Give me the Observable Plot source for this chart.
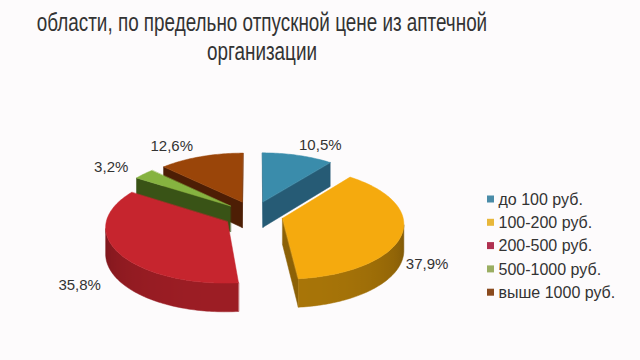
<!DOCTYPE html>
<html>
<head>
<meta charset="utf-8">
<script src="https://cdn.jsdelivr.net/npm/d3@7"></script>
<script src="https://cdn.jsdelivr.net/npm/@observablehq/plot@0.6"></script>
<style>
  html, body { margin: 0; padding: 0; background: #fdfbfc; }
  #wrap { width: 640px; height: 360px; overflow: hidden; position: relative; background: #fdfbfc; }
  #title { height: 66px; width: 700px; margin-left: -88px; box-sizing: border-box; padding-top: 8px;
           font-family: "Liberation Sans", Arial, sans-serif; font-size: 25px; line-height: 29px;
           color: #333; text-align: center; white-space: nowrap; }
  #title div { transform: scaleX(0.755); transform-origin: 50% 50%; }
  #chart svg { display: block; }
</style>
</head>
<body>
<div id="wrap">
  <div id="title"><div>области, по предельно отпускной цене из аптечной</div><div>организации</div></div>
  <div id="chart"></div>
</div>
<script>
// ---- data ----
const categories = ["до 100 руб.", "100-200 руб.", "200-500 руб.", "500-1000 руб.", "выше 1000 руб."];
const values = [10.5, 37.9, 35.8, 3.2, 12.6];
// ---- styles ----
const topColors = ["#3a8cab", "#f5aa0e", "#c6252e", "#86b340", "#9a4509"];
const sideColors = ["#2c6682", "#a87508", "#9c1d24", "#42601a", "#5a2306"];
const sideDark = ["#1f4e66", "#6a4805", "#6e1318", "#2d4410", "#3e1704"];
const legendColors = ["#4a8ca8", "#e8b73a", "#b03050", "#9aae62", "#8a4a1e"];

// ---- layout ----
const CX = 253, CY = 214, RX = 120, RY = 55, D = 12, H = 26, E = 0.25;
const fmt = v => d3.format(".1f")(v).replace(".", ",") + "%";

function proj(u, v, z) {
  const s = D / (D - v);
  return [CX + RX * u * s, CY + RY * v * s + H * s * z];
}

const arcs = d3.pie().sort(null).value(d => d)(values);
const walls = [], tops = [], labels = [], gradients = [];
let wid = 0;
const eye = [0, D];
function visible(nu, nv, pu, pv) { return nu * (eye[0] - pu) + nv * (eye[1] - pv) > 0; }
function pushPoly(arr, pts, color, depth) {
  arr.push({id: "p" + (wid++), depth, color, pts});
}

arcs.forEach((a, i) => {
  const m = (a.startAngle + a.endAngle) / 2;
  const eu = E * Math.sin(m), ev = -E * Math.cos(m);
  const n = Math.max(3, Math.ceil((a.endAngle - a.startAngle) / 0.02));
  const ang = d3.range(n + 1).map(t => a.startAngle + (a.endAngle - a.startAngle) * t / n);
  const P = ang.map(t => [eu + Math.sin(t), ev - Math.cos(t)]);
  // outer wall: visible contiguous run, one polygon with horizontal gradient
  const vis = [];
  for (let k = 0; k <= n; k++) {
    const t = ang[k];
    if (visible(Math.sin(t), -Math.cos(t), P[k][0], P[k][1])) vis.push(k);
  }
  if (vis.length > 1) {
    const topPts = vis.map(k => proj(P[k][0], P[k][1], 0));
    const botPts = vis.map(k => proj(P[k][0], P[k][1], 1)).reverse();
    const xs = topPts.map(p => p[0]);
    const x0 = d3.min(xs), x1 = d3.max(xs);
    const stops = vis.map((k, j) => {
      const face = Math.max(0, Math.min(1, -Math.cos(ang[k])));
      return {offset: (xs[j] - x0) / (x1 - x0), color: d3.interpolateRgb(sideDark[i], sideColors[i])(Math.pow(face, 0.6))};
    }).sort((p, q) => p.offset - q.offset);
    const gid = "wg" + i;
    gradients.push({id: gid, x0, x1, stops});
    const meanV = d3.mean(vis, k => P[k][1]);
    pushPoly(walls, [...topPts, ...botPts], `url(#${gid})`, meanV);
  }
  // radial walls
  const edges = [
    {p: P[0], nu: -Math.cos(a.startAngle), nv: -Math.sin(a.startAngle)},
    {p: P[n], nu: Math.cos(a.endAngle), nv: Math.sin(a.endAngle)}
  ];
  edges.forEach(e => {
    const pu = (eu + e.p[0]) / 2, pv = (ev + e.p[1]) / 2;
    if (!visible(e.nu, e.nv, pu, pv)) return;
    const col = d3.interpolateRgb(sideDark[i], sideColors[i])(0.55);
    pushPoly(walls, [proj(eu, ev, 0), proj(e.p[0], e.p[1], 0), proj(e.p[0], e.p[1], 1), proj(eu, ev, 1)], col, pv);
  });
  // top face
  pushPoly(tops, [proj(eu, ev, 0), ...P.map(p => proj(p[0], p[1], 0))], topColors[i], ev);
  // label, placed just outside the slice's outer edge
  const sm = Math.sin(m), cm = -Math.cos(m);
  const [ax, ay] = proj(eu + sm, ev + cm, 0);
  const front = cm > 0 ? H * (D / (D - (ev + cm))) : 0;
  labels.push({
    x: ax + sm * (sm > 0 ? 4 : 20), y: ay + front + cm * 11,
    anchor: sm > 0 ? "start" : "end", text: fmt(values[i])
  });
});

walls.sort((a, b) => a.depth - b.depth);
tops.sort((a, b) => a.depth - b.depth);
const flat = arr => arr.flatMap(p => p.pts.map(([x, y]) => ({id: p.id, color: p.color, x, y})));

const legend = categories.map((c, i) => ({c, color: legendColors[i], y: 199 + i * 23.3}));

const chart = Plot.plot({
  width: 640, height: 294,
  margin: 0,
  x: {domain: [0, 640], range: [0, 640], axis: null},
  y: {domain: [66, 360], range: [0, 294], axis: null},
  color: {type: "identity"},
  style: {fontFamily: "'Liberation Sans', Arial, sans-serif", background: "transparent"},
  marks: [
    Plot.line(flat(walls), {x: "x", y: "y", z: "id", fill: "color", stroke: "color", strokeWidth: 0.5, curve: "linear-closed"}),
    Plot.line(flat(tops), {x: "x", y: "y", z: "id", fill: "color", stroke: "color", strokeWidth: 0.5, curve: "linear-closed"}),
    Plot.text(labels.filter(d => d.anchor === "start"), {x: "x", y: "y", text: "text", fontSize: 15, fill: "#333", textAnchor: "start"}),
    Plot.text(labels.filter(d => d.anchor === "end"), {x: "x", y: "y", text: "text", fontSize: 15, fill: "#333", textAnchor: "end"}),
    Plot.rect(legend, {x1: 487, x2: 494, y1: d => d.y - 3.5, y2: d => d.y + 3.5, fill: "color"}),
    Plot.text(legend, {x: 498, y: "y", text: "c", fontSize: 16, fill: "#333", textAnchor: "start"})
  ]
});
// gradient definitions for the curved walls
const defs = d3.select(chart).insert("defs", ":first-child");
gradients.forEach(g => {
  const lg = defs.append("linearGradient").attr("id", g.id).attr("gradientUnits", "userSpaceOnUse")
    .attr("x1", g.x0).attr("x2", g.x1).attr("y1", 0).attr("y2", 0);
  g.stops.forEach(s => lg.append("stop").attr("offset", s.offset).attr("stop-color", s.color));
});
document.getElementById("chart").appendChild(chart);
</script>
</body>
</html>
